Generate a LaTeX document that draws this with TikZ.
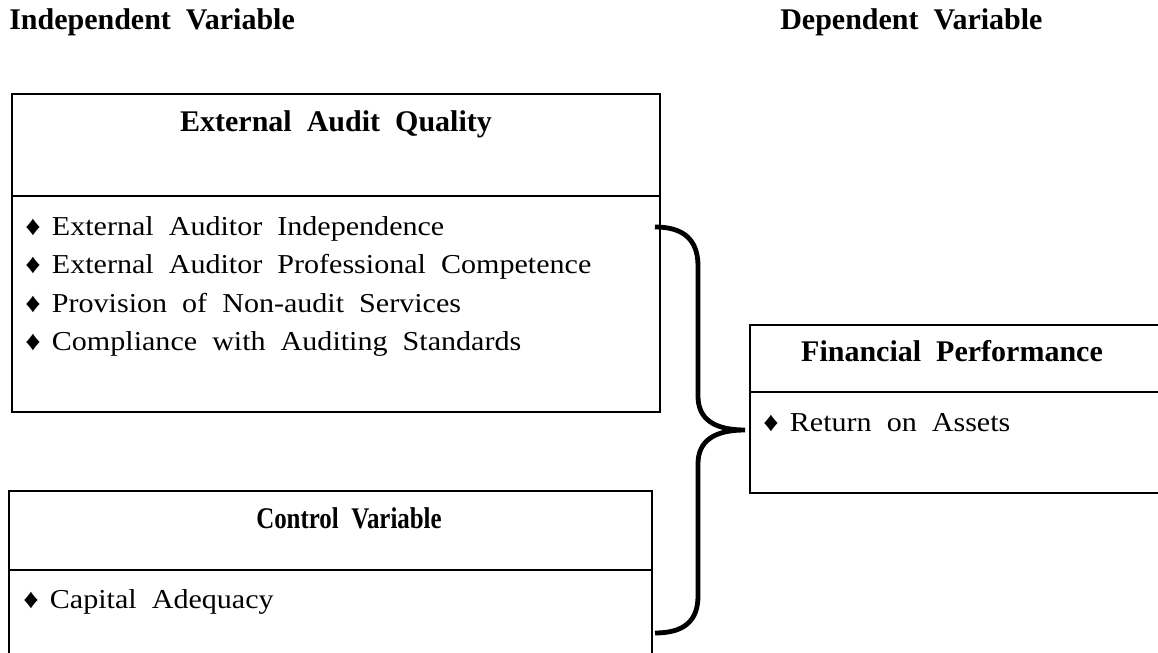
\documentclass[tikz,border=0pt]{standalone}
\usepackage{fontspec}
\setmainfont{Liberation Serif}[WordSpace=2]
\newfontfamily\itemfont{Liberation Serif}[WordSpace=2,FakeStretch=1.1]

% bullet with fixed room before the item text
\newcommand{\dia}{\makebox[20pt][l]{♦}}

\tikzset{
  head/.style={font=\fontsize{22.5}{27}\selectfont\bfseries, inner sep=0pt},
  item/.style={font=\itemfont\fontsize{20.5}{24}\selectfont, inner sep=0pt, anchor=base west},
  frame/.style={line width=1.2},
  bracket/.style={line width=3.6}
}

\begin{document}
\begin{tikzpicture}[x=0.75pt,y=0.75pt,yscale=-1,xscale=1]
\useasboundingbox (0,0) rectangle (1158,653);
\clip (0,0) rectangle (1158,653);

%Shape: Rectangle [external audit quality]
\draw  [frame] (12,94) -- (660,94) -- (660,412) -- (12,412) -- cycle ;
\draw  [frame] (12,196) -- (660,196) ;
%Shape: Rectangle [financial performance]
\draw  [frame] (750,325) -- (1170,325) -- (1170,493) -- (750,493) -- cycle ;
\draw  [frame] (750,392) -- (1170,392) ;
%Shape: Rectangle [control variable]
\draw  [frame] (9,491) -- (652,491) -- (652,670) -- (9,670) -- cycle ;
\draw  [frame] (9,570) -- (652,570) ;

% Text Node
\draw (9,30) node (indep) [head, anchor=base west] {Independent Variable};
% Text Node
\draw (780,30) node (dep) [head, anchor=base west] {Dependent Variable};
% Text Node
\draw (336,131) node (eaq) [head, anchor=base] {External Audit Quality};
% Text Node
\draw (952,361) node (fp) [head, anchor=base] {Financial Performance};
% Text Node
\draw (349,528) node (cv) [head, anchor=base] {\scalebox{0.83}[1]{Control Variable}};

% Text Node
\draw (25,235) node (eaqa) [item] {\dia External Auditor Independence};
% Text Node
\draw (25,273) node (eaqb) [item] {\dia External Auditor Professional Competence};
% Text Node
\draw (25,312) node (eaqc) [item] {\dia Provision of Non-audit Services};
% Text Node
\draw (25,350) node (eaqd) [item] {\dia Compliance with Auditing Standards};
% Text Node
\draw (763,431) node (fpa) [item] {\dia Return on Assets};
% Text Node
\draw (23,608) node (cva) [item] {\dia Capital Adequacy};

%Curve Lines [brace]
\coordinate (bracetop) at (655,227);
\coordinate (bracemid) at (745,430);
\coordinate (bracebot) at (655,633);
\draw [bracket] (bracetop) .. controls (684,227) and (698,240) .. (698,266) -- (698,396) .. controls (698,419) and (714,430) .. (bracemid) .. controls (714,430) and (698,441) .. (698,464) -- (698,596) .. controls (698,621) and (684,633) .. (bracebot) ;

\end{tikzpicture}
\end{document}
